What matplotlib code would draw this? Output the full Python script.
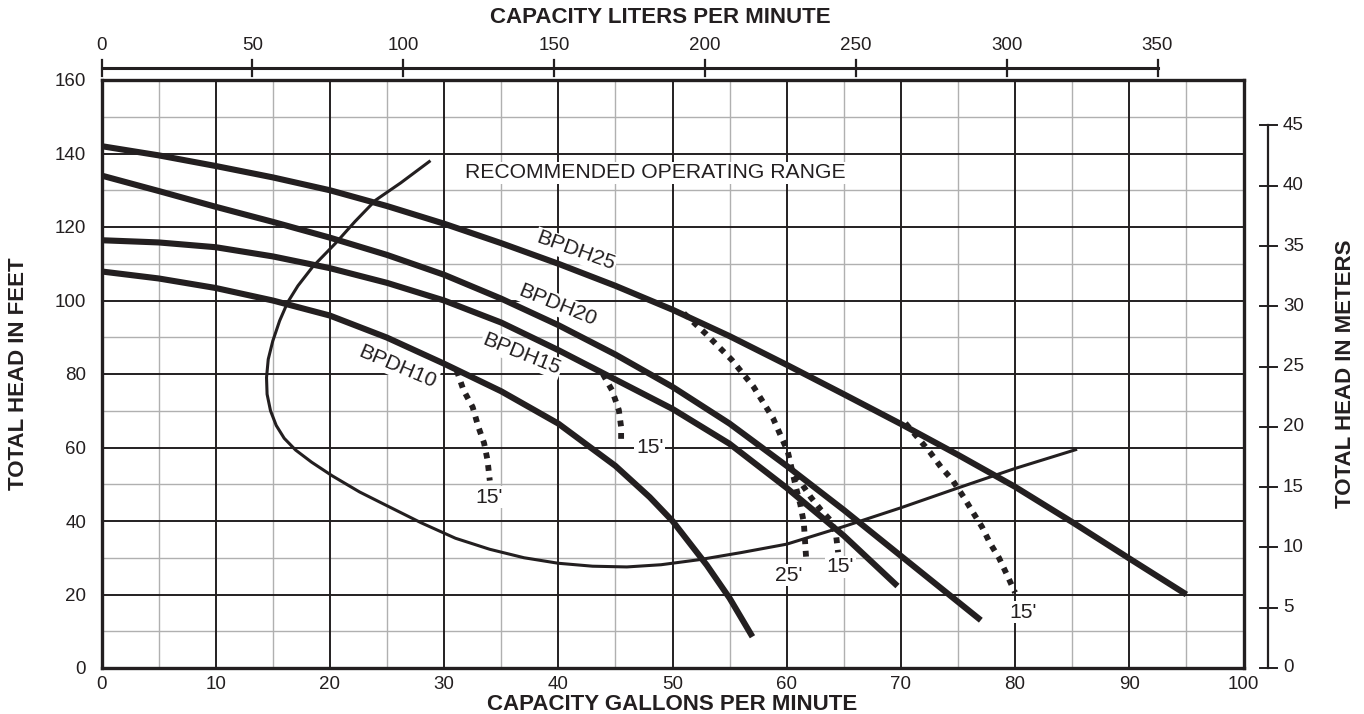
import numpy as np
import matplotlib
matplotlib.use("Agg")
import matplotlib.pyplot as plt

plt.rcParams['font.family'] = ['Liberation Sans', 'DejaVu Sans']

# Pump performance curves: capacity (GPM) vs total head (ft)
bpdh25_gpm = [0, 5, 10, 15, 20, 25, 30, 35, 40, 45, 50, 55, 60, 65, 70, 75, 80, 85, 90, 95]
bpdh25_ft = [142, 139.5, 136.6, 133.5, 130, 125.7, 120.9, 115.6, 110, 104, 97.5, 90.3, 82.5, 74.5, 66.4, 58, 49.3, 39.7, 29.8, 20]

bpdh20_gpm = [0, 5, 10, 15, 20, 25, 30, 35, 40, 45, 50, 55, 60, 65, 70, 74, 77]
bpdh20_ft = [134, 129.8, 125.5, 121.4, 117.1, 112.4, 107, 100.5, 93.3, 85.3, 76.5, 66.5, 55, 43, 30.5, 20.5, 13]

bpdh15_gpm = [0, 5, 10, 15, 20, 25, 30, 35, 40, 45, 50, 55, 60, 65, 69.7]
bpdh15_ft = [116.4, 115.8, 114.5, 112, 108.8, 104.8, 100, 94, 86.5, 78.5, 70.5, 61, 49, 36, 22.3]

bpdh10_gpm = [0, 5, 10, 15, 20, 25, 30, 35, 40, 45, 48, 50, 53, 55, 57]
bpdh10_ft = [107.9, 106, 103.4, 100, 95.9, 89.9, 82.8, 75.3, 66.5, 55, 46.5, 40, 28, 19, 8.5]

# Recommended operating range boundary
range_gpm = [28.7, 26.2, 24, 22.2, 20.5, 18.5, 17.2, 16.3, 15.6, 15.0, 14.6, 14.45, 14.5, 14.8,
             15.3, 16.0, 17.0, 18.4, 20.2, 22.6, 25.1, 28, 31, 34, 37, 40, 43, 46, 49,
             52.4, 56, 60, 65, 70, 75, 80, 85.3]
range_ft = [137.8, 132, 127.3, 121.5, 115.6, 109.2, 104, 99.5, 94.5, 89, 84, 79, 74.5, 70,
            66, 62.5, 59.3, 56, 52.3, 47.9, 44, 39.5, 35.3, 32.3, 30, 28.5, 27.7, 27.5, 28.1,
            29.5, 31.4, 33.7, 38.5, 43.6, 49, 54.3, 59.4]

# Suction lift limit lines (dotted)
lift10_gpm = [31.1, 31.7, 32.5, 33, 33.5, 33.8, 34]
lift10_ft = [81, 75.6, 71, 65.6, 61.2, 56.6, 51]
lift15_gpm = [43.9, 44.7, 45.3, 45.5, 45.5]
lift15_ft = [80, 75.6, 70.2, 65.6, 61]
lift25a_gpm = [51, 52.9, 55.2, 57.1, 58.8, 60.1, 60.8, 61.2, 61.5, 61.7]
lift25a_ft = [96.5, 91, 83.8, 76.5, 68, 58.8, 49.3, 44.4, 39.5, 30]
lift20_gpm = [60.8, 62.1, 63, 63.8, 64.3, 64.5]
lift20_ft = [52.5, 46.5, 43, 40.3, 36.7, 31.5]
lift25b_gpm = [70.4, 71.5, 72.6, 73.5, 74.5, 75.5, 76.3, 77.1, 77.8, 78.6, 79.3, 80]
lift25b_ft = [66.6, 62.6, 58.5, 54.7, 51.2, 46.5, 42.4, 38.4, 34, 29.9, 25.3, 20.5]

liters_ticks = [0, 50, 100, 150, 200, 250, 300, 350]
meters_ticks = [0, 5, 10, 15, 20, 25, 30, 35, 40, 45]
LPM_PER_GPM = 3.785
FT_PER_M = 3.2808

fig = plt.figure(figsize=(13.64, 7.14), dpi=100)
ax = fig.add_axes([101.5 / 1364, 46 / 714, 1142 / 1364, 588 / 714])
ax.set_xlim(0, 100)
ax.set_ylim(0, 160)

# grid
for x in range(5, 100, 10):
    ax.axvline(x, color='#b0b0b0', lw=1.0, zorder=1)
for y in range(10, 160, 20):
    ax.axhline(y, color='#b0b0b0', lw=1.0, zorder=1)
for x in range(10, 100, 10):
    ax.axvline(x, color='#231f20', lw=1.4, zorder=1.5)
for y in range(20, 160, 20):
    ax.axhline(y, color='#231f20', lw=1.4, zorder=1.5)
for s in ax.spines.values():
    s.set_linewidth(2.4)
    s.set_color('#231f20')

ax.set_xticks(range(0, 101, 10))
ax.set_yticks(range(0, 161, 20))
ax.tick_params(length=0, labelsize=13.5, colors='#231f20')
ax.tick_params(axis='x', pad=6)
ax.tick_params(axis='y', pad=11)

curve_kw = dict(color='#231f20', lw=4.4, solid_capstyle='butt', solid_joinstyle='round', zorder=4)
ax.plot(bpdh25_gpm, bpdh25_ft, **curve_kw)
ax.plot(bpdh20_gpm, bpdh20_ft, **curve_kw)
ax.plot(bpdh15_gpm, bpdh15_ft, **curve_kw)
ax.plot(bpdh10_gpm, bpdh10_ft, **curve_kw)
ax.plot(range_gpm, range_ft, color='#231f20', lw=2.2, solid_joinstyle='round', zorder=3)

dot_kw = dict(color='#231f20', lw=4.2, linestyle=(0, (1.0, 1.15)), zorder=3.5)
for gx, fy in [(lift10_gpm, lift10_ft), (lift15_gpm, lift15_ft), (lift25a_gpm, lift25a_ft),
               (lift20_gpm, lift20_ft), (lift25b_gpm, lift25b_ft)]:
    ax.plot(gx, fy, **dot_kw)

white = dict(facecolor='white', edgecolor='none', pad=1.0)
txt = dict(fontsize=15.2, color='#231f20', ha='center', va='center', zorder=6)
ax.text(41.5, 113.4, 'BPDH25', rotation=-20, bbox=white, **txt)
ax.text(39.9, 98.8, 'BPDH20', rotation=-22, bbox=white, **txt)
ax.text(36.8, 85.4, 'BPDH15', rotation=-22, bbox=white, **txt)
ax.text(25.9, 82.0, 'BPDH10', rotation=-23, bbox=white, **txt)
ax.text(48.5, 134.7, 'RECOMMENDED OPERATING RANGE', bbox=white, **txt)
ax.text(33.9, 46.5, "15'", bbox=white, **txt)
ax.text(48.0, 60.0, "15'", bbox=white, **txt)
ax.text(60.2, 25.3, "25'", bbox=white, **txt)
ax.text(64.7, 27.5, "15'", bbox=white, **txt)
ax.text(80.7, 15.2, "15'", bbox=white, **txt)

title_kw = dict(fontsize=16, fontweight='bold', color='#231f20', ha='center', va='center')

# liters per minute scale on top
xt = ax.get_xaxis_transform()
lpm_gpm = [v / LPM_PER_GPM for v in liters_ticks]
ax.plot([lpm_gpm[0], lpm_gpm[-1]], [1.0204, 1.0204], transform=xt, color='#231f20', lw=2.2, clip_on=False)
for v, g in zip(liters_ticks, lpm_gpm):
    ax.plot([g, g], [1.0068, 1.034], transform=xt, color='#231f20', lw=1.6, clip_on=False)
    ax.text(g, 1.0595, str(v), transform=xt, fontsize=13.5, color='#231f20', ha='center', va='center')
ax.text(0.489, 1.107, 'CAPACITY LITERS PER MINUTE', transform=ax.transAxes, **title_kw)

# meters scale on the right
yt = ax.get_yaxis_transform()
m_ft = [v * FT_PER_M for v in meters_ticks]
ax.plot([1.0215, 1.0215], [m_ft[0], m_ft[-1]], transform=yt, color='#231f20', lw=1.6, clip_on=False)
for v, f in zip(meters_ticks, m_ft):
    ax.plot([1.0144, 1.0293], [f, f], transform=yt, color='#231f20', lw=1.4, clip_on=False)
    ax.text(1.0346, f, str(v), transform=yt, fontsize=13.5, color='#231f20', ha='left', va='center')
ax.text(1.0889, 0.5, 'TOTAL HEAD IN METERS', transform=ax.transAxes, rotation=90, **title_kw)

ax.text(0.5, -0.062, 'CAPACITY GALLONS PER MINUTE', transform=ax.transAxes, **title_kw)
ax.text(-0.073, 0.5, 'TOTAL HEAD IN FEET', transform=ax.transAxes, rotation=90, **title_kw)

fig.savefig('out.png', dpi=100)
